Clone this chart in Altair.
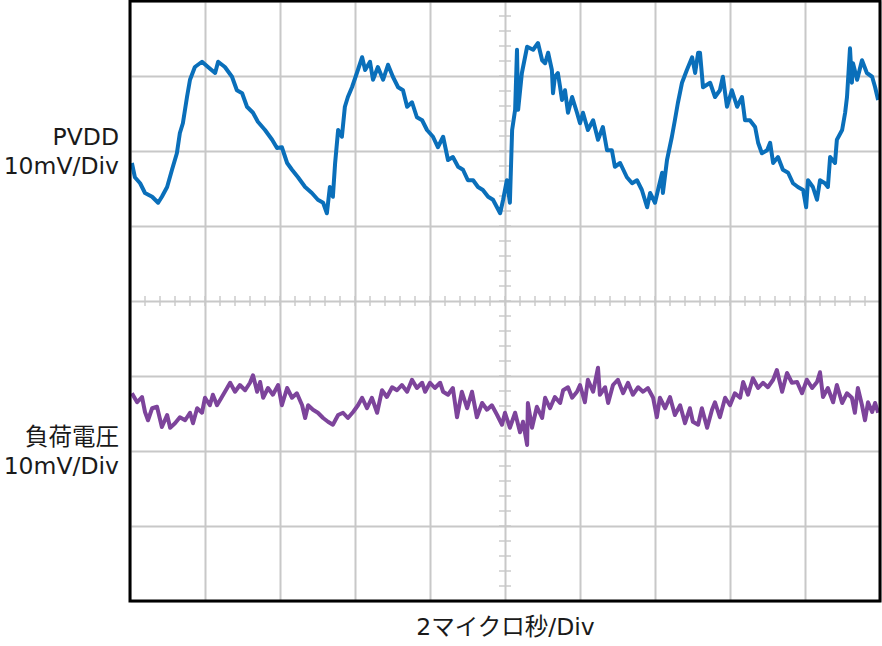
import altair as alt
import numpy as np
import pandas as pd

# PVDD trace: time (µs), voltage (mV relative to screen centre)
pvdd_t = [0.05,0.13,0.27,0.40,0.59,0.75,0.85,0.99,1.12,1.25,1.33,1.41,1.52,1.60,1.73,1.92,2.08,2.27,2.35,2.53,
          2.72,2.85,2.99,3.12,3.28,3.41,3.60,3.79,3.92,4.05,4.19,4.32,4.48,4.67,4.85,5.01,5.15,5.25,5.33,5.41,
          5.47,5.55,5.65,5.73,5.81,5.92,6.05,6.19,6.27,6.40,6.48,6.61,6.75,6.88,7.01,7.15,7.28,7.39,7.52,7.65,
          7.79,7.92,8.08,8.21,8.35,8.48,8.61,8.75,8.88,9.01,9.15,9.28,9.41,9.55,9.68,9.87,9.95,10.05,10.13,10.19,
          10.27,10.32,10.35,10.45,10.59,10.75,10.88,10.99,11.07,11.15,11.25,11.28,11.33,11.41,11.47,11.52,11.60,11.68,11.79,11.92,
          12.00,12.08,12.21,12.35,12.48,12.61,12.72,12.85,12.93,13.07,13.25,13.39,13.52,13.65,13.79,13.87,14.00,14.08,14.19,14.21,
          14.32,14.45,14.53,14.61,14.72,14.85,14.99,15.07,15.15,15.20,15.28,15.47,15.60,15.73,15.81,15.92,16.05,16.19,16.32,16.40,
          16.53,16.67,16.75,16.85,16.99,17.07,17.15,17.28,17.41,17.55,17.68,17.81,17.95,18.03,18.08,18.21,18.32,18.40,18.53,18.61,
          18.67,18.80,18.85,18.99,19.07,19.12,19.20,19.25,19.28,19.39,19.52,19.65,19.79,19.87,19.95]
pvdd_v = [18.4,16.5,15.7,14.4,13.9,13.1,13.9,15.2,17.5,19.7,22.4,23.7,27.2,29.5,31.2,31.9,31.2,30.4,31.9,31.2,
          29.9,28.1,27.7,25.9,25.1,23.9,22.8,21.5,20.4,20.5,18.4,17.5,16.5,15.2,14.4,13.5,13.1,11.7,15.2,13.9,
          18.4,22.8,21.9,25.9,27.2,28.5,30.4,32.5,30.8,31.9,29.5,31.2,29.5,31.5,29.9,28.5,28.1,25.9,26.5,24.5,
          24.1,22.8,21.9,20.5,21.9,18.8,19.2,17.9,17.5,16.1,16.1,15.2,14.8,13.9,13.5,11.7,13.5,16.1,13.1,22.8,
          25.5,33.5,25.5,30.4,33.9,33.5,34.4,32.1,31.7,33.1,30.8,27.7,29.9,30.4,28.5,26.8,28.1,25.1,27.2,25.1,
          23.7,25.1,22.8,24.1,21.5,23.2,20.1,20.1,17.9,18.4,16.5,15.7,16.1,14.8,12.5,14.4,13.1,14.8,17.1,14.4,
          18.8,21.9,24.1,26.4,29.1,30.8,32.5,30.4,33.1,33.1,28.5,29.1,27.2,28.1,29.9,25.9,28.1,25.9,27.2,24.1,
          24.1,23.2,21.1,19.7,20.1,21.1,18.4,19.2,17.5,17.1,15.7,15.2,14.8,12.5,16.1,15.2,13.5,16.1,15.7,15.2,
          19.2,18.4,21.5,22.8,25.1,27.2,33.7,29.1,31.7,29.5,32.1,30.4,29.9,28.5,26.8]

# Load voltage trace
load_t = [0.05,0.19,0.32,0.40,0.48,0.59,0.72,0.85,0.99,1.07,1.20,1.33,1.47,1.60,1.68,1.79,1.92,2.00,2.13,2.21,
          2.32,2.45,2.59,2.67,2.80,2.93,3.07,3.20,3.28,3.39,3.47,3.55,3.68,3.81,3.95,4.05,4.19,4.32,4.45,4.59,
          4.67,4.75,4.88,5.01,5.15,5.28,5.41,5.55,5.68,5.81,5.95,6.08,6.19,6.32,6.45,6.59,6.72,6.85,6.99,7.12,
          7.25,7.39,7.52,7.65,7.79,7.87,8.00,8.13,8.27,8.35,8.48,8.61,8.72,8.85,8.99,9.12,9.25,9.39,9.52,9.65,
          9.79,9.92,10.00,10.13,10.27,10.40,10.48,10.59,10.61,10.72,10.85,10.99,11.07,11.20,11.33,11.47,11.55,11.68,11.79,11.92,
          12.00,12.13,12.21,12.35,12.48,12.53,12.67,12.75,12.88,13.01,13.15,13.28,13.41,13.55,13.68,13.81,13.95,14.05,14.13,14.27,
          14.40,14.53,14.67,14.80,14.93,15.01,15.15,15.25,15.39,15.52,15.60,15.73,15.87,16.00,16.13,16.27,16.35,16.48,16.61,16.75,
          16.88,17.01,17.15,17.25,17.39,17.52,17.65,17.79,17.92,18.05,18.19,18.32,18.40,18.48,18.61,18.75,18.85,18.99,19.12,19.25,
          19.33,19.41,19.52,19.60,19.68,19.79,19.87,19.95]
load_v = [-12.3,-13.5,-12.8,-14.8,-15.9,-14.3,-14.1,-16.8,-15.2,-16.9,-16.3,-15.5,-15.9,-14.9,-16.3,-14.3,-14.9,-12.9,-13.9,-12.5,
          -13.9,-12.8,-11.6,-10.9,-12.1,-11.2,-11.9,-10.9,-9.9,-12.1,-10.8,-12.9,-11.6,-12.5,-11.2,-13.9,-11.6,-12.9,-12.3,-13.9,
          -15.6,-13.9,-14.5,-14.9,-15.6,-16.1,-16.5,-15.2,-14.9,-15.6,-14.8,-13.9,-12.9,-14.3,-12.9,-14.9,-11.9,-12.8,-11.5,-11.9,
          -11.2,-12.1,-10.5,-11.6,-10.9,-12.1,-10.9,-11.6,-10.9,-12.1,-12.5,-11.6,-15.5,-12.1,-14.3,-12.1,-15.5,-13.6,-14.5,-13.9,
          -15.2,-16.5,-14.9,-16.9,-14.9,-17.5,-16.1,-19.2,-13.6,-16.9,-14.1,-15.6,-12.9,-14.3,-12.8,-13.6,-11.9,-11.5,-12.9,-12.1,
          -11.2,-13.5,-10.5,-12.1,-8.9,-12.5,-11.5,-13.6,-11.2,-10.5,-12.3,-10.9,-12.5,-11.5,-12.1,-11.6,-12.9,-15.5,-12.9,-14.3,
          -12.8,-15.2,-13.9,-16.3,-14.3,-16.1,-16.5,-14.3,-16.9,-14.5,-13.5,-15.5,-12.9,-13.9,-12.3,-12.9,-10.8,-12.5,-10.3,-11.6,
          -10.9,-11.5,-10.5,-9.2,-12.1,-9.6,-10.9,-10.8,-12.3,-10.5,-11.6,-10.8,-9.5,-12.8,-11.6,-13.5,-11.2,-13.6,-12.3,-12.9,
          -14.9,-11.6,-13.9,-15.9,-13.5,-14.8,-13.6,-14.9]

x_grid = list(range(0, 21, 2))
y_grid = list(range(-40, 41, 10))
x_minor = [round(v, 1) for v in np.arange(0, 20.01, 0.4)]
y_minor = [round(v, 1) for v in np.arange(-40, 40.01, 2)]

FONT = "DejaVu Sans, Noto Sans CJK JP"
GRID = "#c8c8c8"
TXT = "#1a1a1a"

xs = alt.Scale(domain=[0, 20], nice=False, zero=False)
ys = alt.Scale(domain=[-40, 40], nice=False, zero=False)

pvdd = pd.DataFrame({"t": pvdd_t, "v": pvdd_v})
load = pd.DataFrame({"t": load_t, "v": load_v})

base_axes = alt.Chart(pd.DataFrame({"t": [0, 20], "v": [-40, 40]})).mark_point(opacity=0).encode(
    x=alt.X("t:Q", scale=xs,
            axis=alt.Axis(values=x_grid, labels=False, ticks=False, domain=False, grid=True,
                          gridColor=GRID, gridWidth=2, title="2マイクロ秒/Div", titleFont=FONT,
                          titleFontSize=23.5, titleFontWeight="normal", titleColor=TXT, titlePadding=14)),
    y=alt.Y("v:Q", scale=ys,
            axis=alt.Axis(values=y_grid, labels=False, ticks=False, domain=False, grid=True,
                          gridColor=GRID, gridWidth=2, title=None)),
)

hticks = alt.Chart(pd.DataFrame({"t": x_minor, "v": [0] * len(x_minor)})).mark_tick(
    orient="vertical", size=10, thickness=2, color=GRID
).encode(x=alt.X("t:Q", scale=xs), y=alt.Y("v:Q", scale=ys))

vticks = alt.Chart(pd.DataFrame({"t": [10] * len(y_minor), "v": y_minor})).mark_tick(
    orient="horizontal", size=12, thickness=2, color=GRID
).encode(x=alt.X("t:Q", scale=xs), y=alt.Y("v:Q", scale=ys))

line_pvdd = alt.Chart(pvdd).mark_line(color="#0a6fba", strokeWidth=4, strokeJoin="round").encode(
    x=alt.X("t:Q", scale=xs), y=alt.Y("v:Q", scale=ys), order="t:Q")
line_load = alt.Chart(load).mark_line(color="#7d449b", strokeWidth=4, strokeJoin="round").encode(
    x=alt.X("t:Q", scale=xs), y=alt.Y("v:Q", scale=ys), order="t:Q")

frame = alt.Chart(pd.DataFrame({"t": [0], "t2": [20], "v": [-40], "v2": [40]})).mark_rect(
    fill=None, fillOpacity=0, stroke="black", strokeWidth=3
).encode(x=alt.X("t:Q", scale=xs), x2="t2:Q", y=alt.Y("v:Q", scale=ys), y2="v2:Q")

labels = alt.Chart(pd.DataFrame({
    "v": [20, -20],
    "txt": [["PVDD", "10mV/Div"], ["負荷電圧", "10mV/Div"]],
})).mark_text(align="right", baseline="middle", font=FONT, fontSize=23.5, color=TXT,
              lineHeight=29, dy=-13).encode(
    x=alt.value(-11), y=alt.Y("v:Q", scale=ys), text="txt")

chart = alt.layer(base_axes, hticks, vticks, line_pvdd, line_load, frame, labels).properties(
    width=750, height=600,
    autosize=alt.AutoSizeParams(type="none"),
    padding={"left": 130, "top": 1, "right": 2, "bottom": 45},
).configure_view(strokeWidth=0).configure(background="white")

chart.save("out.html", embed_options={"renderer": "svg", "actions": False})
